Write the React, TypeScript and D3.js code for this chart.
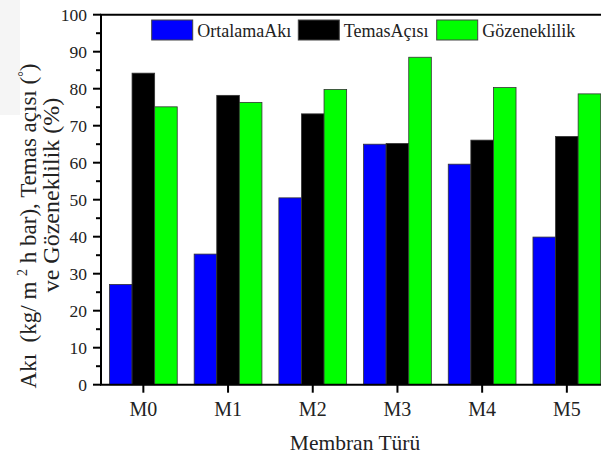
import React, { useEffect, useRef } from 'react';
import * as d3 from 'd3';

// Membrane types and the three measured series
const categories = ['M0', 'M1', 'M2', 'M3', 'M4', 'M5'];
const seriesNames = ['OrtalamaAkı', 'TemasAçısı', 'Gözeneklilik'];
const ortalamaAki = [27.1, 35.3, 50.5, 65.0, 59.6, 39.9];
const temasAcisi = [84.2, 78.2, 73.2, 65.2, 66.1, 67.1];
const gozeneklilik = [75.1, 76.3, 79.8, 88.5, 80.3, 78.6];
const seriesColors = ['#0000ff', '#000000', '#00ff00'];
const yTicks = [0, 10, 20, 30, 40, 50, 60, 70, 80, 90, 100];
const yMinorTicks = [5, 15, 25, 35, 45, 55, 65, 75, 85, 95];

const W = 601;
const H = 458;
const FONT = '"Liberation Serif", "Times New Roman", serif';
const TEXT = '#222';

export default function App() {
  const svgRef = useRef<SVGSVGElement | null>(null);

  useEffect(() => {
    if (!svgRef.current) return;
    const svg = d3.select(svgRef.current);
    svg.selectAll('*').remove();

    const left = 101;
    const top = 14.7;
    const bottom = 384.7;
    const right = 609.2;

    const x = d3.scaleBand<string>()
      .domain(categories)
      .range([left, right])
      .paddingInner(0.2)
      .paddingOuter(0.1);

    const xs = d3.scaleBand<string>()
      .domain(seriesNames)
      .range([0, x.bandwidth()]);

    const y = d3.scaleLinear().domain([0, 100]).range([bottom, top]);

    const allSeries = [ortalamaAki, temasAcisi, gozeneklilik];

    // faint grey patch in the top-left corner of the original
    svg.append('rect')
      .attr('x', 0).attr('y', 0)
      .attr('width', 20).attr('height', 115)
      .attr('fill', '#f5f5f5');

    // Bars
    const groups = svg.append('g')
      .selectAll('g')
      .data(categories)
      .enter()
      .append('g')
      .attr('transform', d => `translate(${x(d)},0)`);

    groups.selectAll('rect')
      .data((d, i) => allSeries.map((s, k) => ({ name: seriesNames[k], value: s[i], color: seriesColors[k] })))
      .enter()
      .append('rect')
      .attr('x', d => xs(d.name) as number)
      .attr('width', xs.bandwidth())
      .attr('y', d => y(d.value))
      .attr('height', d => bottom - y(d.value))
      .attr('fill', d => d.color)
      .attr('stroke', '#333')
      .attr('stroke-width', 0.8);

    // Frame: left axis, bottom axis, top border
    const axisColor = '#000';
    svg.append('line')
      .attr('x1', left).attr('x2', left)
      .attr('y1', top).attr('y2', bottom)
      .attr('stroke', axisColor).attr('stroke-width', 2);
    svg.append('line')
      .attr('x1', left - 1).attr('x2', W)
      .attr('y1', bottom).attr('y2', bottom)
      .attr('stroke', axisColor).attr('stroke-width', 2);
    svg.append('line')
      .attr('x1', left - 1).attr('x2', W)
      .attr('y1', top).attr('y2', top)
      .attr('stroke', axisColor).attr('stroke-width', 2);

    // Y ticks
    svg.append('g')
      .selectAll('line')
      .data(yTicks)
      .enter()
      .append('line')
      .attr('x1', left - 8).attr('x2', left)
      .attr('y1', d => y(d)).attr('y2', d => y(d))
      .attr('stroke', axisColor).attr('stroke-width', 2);

    svg.append('g')
      .selectAll('line')
      .data(yMinorTicks)
      .enter()
      .append('line')
      .attr('x1', left - 5).attr('x2', left)
      .attr('y1', d => y(d)).attr('y2', d => y(d))
      .attr('stroke', axisColor).attr('stroke-width', 2);

    svg.append('g')
      .selectAll('text')
      .data(yTicks)
      .enter()
      .append('text')
      .attr('x', left - 14)
      .attr('y', d => y(d))
      .attr('dy', '0.35em')
      .attr('text-anchor', 'end')
      .attr('font-family', FONT)
      .attr('font-size', 17.5)
      .attr('fill', TEXT)
      .text(d => d);

    // X ticks
    svg.append('g')
      .selectAll('line')
      .data(categories)
      .enter()
      .append('line')
      .attr('x1', d => (x(d) as number) + x.bandwidth() / 2)
      .attr('x2', d => (x(d) as number) + x.bandwidth() / 2)
      .attr('y1', bottom).attr('y2', bottom + 8)
      .attr('stroke', axisColor).attr('stroke-width', 2);

    svg.append('g')
      .selectAll('text')
      .data(categories)
      .enter()
      .append('text')
      .attr('x', d => (x(d) as number) + x.bandwidth() / 2)
      .attr('y', 416)
      .attr('text-anchor', 'middle')
      .attr('font-family', FONT)
      .attr('font-size', 20)
      .attr('fill', TEXT)
      .text(d => d);

    // X title
    svg.append('text')
      .attr('x', 355)
      .attr('y', 450)
      .attr('text-anchor', 'middle')
      .attr('font-family', FONT)
      .attr('font-size', 21.5)
      .attr('fill', TEXT)
      .text('Membran Türü');

    // Y title (two lines)
    const yt = svg.append('text')
      .attr('transform', `translate(36,226) rotate(-90)`)
      .attr('text-anchor', 'middle')
      .attr('font-family', FONT)
      .attr('font-size', 23)
      .attr('fill', TEXT)
      .style('white-space', 'pre');
    yt.append('tspan').text('Akı  (kg/ m ');
    yt.append('tspan').attr('font-size', 14).attr('dy', -9).text('2');
    yt.append('tspan').attr('dy', 9).text(' h bar), Temas açısı (');
    yt.append('tspan').attr('font-size', 14).attr('dy', -8).text('°');
    yt.append('tspan').attr('dy', 8).text(')');

    svg.append('text')
      .attr('transform', `translate(59,195) rotate(-90)`)
      .attr('text-anchor', 'middle')
      .attr('font-family', FONT)
      .attr('font-size', 24)
      .attr('fill', TEXT)
      .text('ve Gözeneklilik (%)');

    // Legend
    const legendX = [151.7, 298.3, 436.7];
    const legend = svg.append('g')
      .selectAll('g')
      .data(seriesNames)
      .enter()
      .append('g')
      .attr('transform', (d, i) => `translate(${legendX[i]},20)`);

    legend.append('rect')
      .attr('width', 41).attr('height', 20)
      .attr('fill', (d, i) => seriesColors[i])
      .attr('stroke', '#444')
      .attr('stroke-width', 1);

    legend.append('text')
      .attr('x', 45.5)
      .attr('y', 16.5)
      .attr('font-family', FONT)
      .attr('font-size', 18)
      .attr('fill', TEXT)
      .text(d => d);
  }, []);

  return (
    <svg
      ref={svgRef}
      width={W}
      height={H}
      style={{ position: 'absolute', left: 0, top: 0, background: '#fff' }}
    />
  );
}
